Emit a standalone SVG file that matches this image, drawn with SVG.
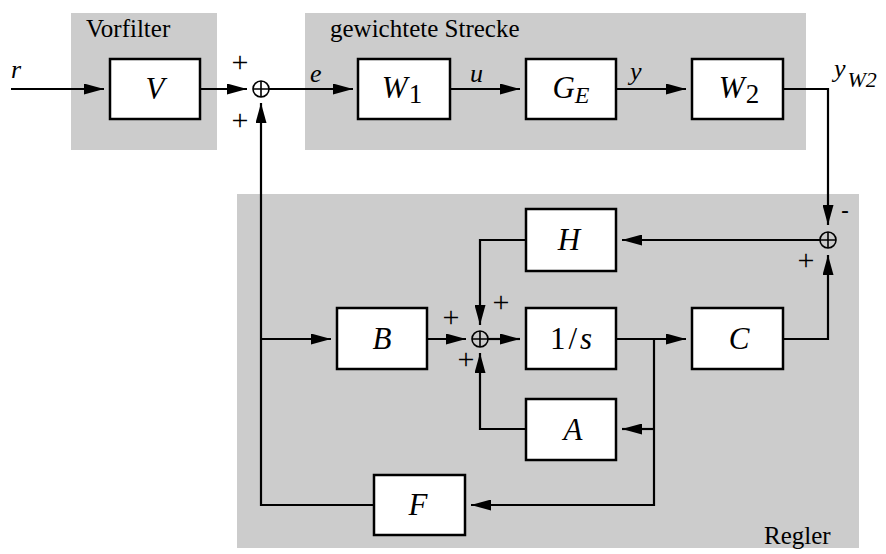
<svg xmlns="http://www.w3.org/2000/svg" width="886" height="554" viewBox="0 0 886 554">
<defs>
<marker id="ah" markerUnits="userSpaceOnUse" markerWidth="21" markerHeight="11" refX="20" refY="5.5" orient="auto">
<path d="M0,0 L20,5.5 L0,11 z" fill="#000"/>
</marker>
<style>
.grp{fill:#cccccc;stroke:none}
.box{fill:#fff;stroke:#000;stroke-width:2.5}
.ar{fill:none;stroke:#000;stroke-width:2.2;marker-end:url(#ah)}
.sum{fill:none;stroke:#000;stroke-width:1.6}
text{font-family:'Liberation Serif','Times New Roman','DejaVu Serif',serif;fill:#000}
.lbl{font-style:italic;font-size:31px;text-anchor:middle}
.sig{font-style:italic;font-size:26px}
.pm{font-size:30px;text-anchor:middle}
.ttl{font-size:25px}
</style>
</defs>
<g id="regions">
<rect class="grp" x="71" y="13" width="146" height="137"/>
<rect class="grp" x="305" y="13" width="501" height="137"/>
<rect class="grp" x="237" y="194" width="622" height="354"/>
<text class="ttl" x="86" y="37">Vorfilter</text>
<text class="ttl" x="330" y="37">gewichtete Strecke</text>
<text class="ttl" x="764" y="544">Regler</text>
</g>
<g id="connectors">
<path class="ar" d="M11,89 H104"/>
<path class="ar" d="M200,89 H247"/>
<path class="ar" d="M269,89 H353"/>
<path class="ar" d="M450,89 H520"/>
<path class="ar" d="M616,89 H686"/>
<path class="ar" d="M783,89 H828 V225"/>
<path class="ar" d="M820,240 H622"/>
<path class="ar" d="M526,240 H480 V325"/>
<path class="ar" d="M526,429 H480 V353"/>
<path class="ar" d="M427,339 H466"/>
<path class="ar" d="M488,339 H520"/>
<path class="ar" d="M616,339 H686"/>
<path class="ar" d="M654,339 V505 H471"/>
<path class="ar" d="M654,429 H622"/>
<path class="ar" d="M783,339 H828 V255"/>
<path class="ar" d="M374,505 H261 V103"/>
<path class="ar" d="M261,339 H331"/>
</g>
<g id="labels">
<text class="sig" x="11" y="78">r</text>
<text class="sig" x="310" y="82">e</text>
<text class="sig" x="470" y="82">u</text>
<text class="sig" x="630" y="80">y</text>
<text class="sig" x="834" y="77">y<tspan font-size="22" dy="10" dx="2">W2</tspan></text>
</g>
<g id="sum1">
<circle class="sum" cx="261" cy="89" r="8"/>
<path class="sum" d="M253,89 H269 M261,81 V97"/>
<text class="pm" x="240" y="72">+</text>
<text class="pm" x="240" y="130">+</text>
</g>
<g id="sum2">
<circle class="sum" cx="828" cy="240" r="8"/>
<path class="sum" d="M820,240 H836 M828,232 V248"/>
<text x="845" y="218" style="font-family:'Liberation Sans',sans-serif;font-size:24px" text-anchor="middle">-</text>
<text class="pm" x="806" y="270">+</text>
</g>
<g id="sum3">
<circle class="sum" cx="480" cy="339" r="8"/>
<path class="sum" d="M472,339 H488 M480,331 V347">
</path>
<text class="pm" x="451" y="327">+</text>
<text class="pm" x="501" y="312">+</text>
<text class="pm" x="466" y="369">+</text>
</g>
<g id="V"><rect class="box" x="110" y="59" width="90" height="60"/><text class="lbl" x="155" y="99">V</text></g>
<g id="W1"><rect class="box" x="358" y="59" width="92" height="60"/><text class="lbl" x="402" y="98">W<tspan font-size="27" dy="5" dx="1" font-style="normal">1</tspan></text></g>
<g id="GE"><rect class="box" x="526" y="59" width="90" height="60"/><text class="lbl" x="571" y="98">G<tspan font-size="24" dy="5">E</tspan></text></g>
<g id="W2"><rect class="box" x="692" y="59" width="91" height="60"/><text class="lbl" x="739" y="98">W<tspan font-size="27" dy="5" dx="1" font-style="normal">2</tspan></text></g>
<g id="H"><rect class="box" x="526" y="209" width="90" height="62"/><text class="lbl" x="569" y="250">H</text></g>
<g id="B"><rect class="box" x="337" y="308" width="90" height="61"/><text class="lbl" x="382" y="349">B</text></g>
<g id="I"><rect class="box" x="526" y="308" width="90" height="61"/><text class="lbl" x="571" y="349"><tspan font-style="normal">1</tspan><tspan font-style="normal" dx="3">/</tspan><tspan dx="3">s</tspan></text></g>
<g id="C"><rect class="box" x="692" y="308" width="91" height="61"/><text class="lbl" x="739" y="349">C</text></g>
<g id="A"><rect class="box" x="526" y="399" width="90" height="61"/><text class="lbl" x="573" y="440">A</text></g>
<g id="F"><rect class="box" x="374" y="475" width="91" height="60"/><text class="lbl" x="418" y="515">F</text></g>
</svg>
